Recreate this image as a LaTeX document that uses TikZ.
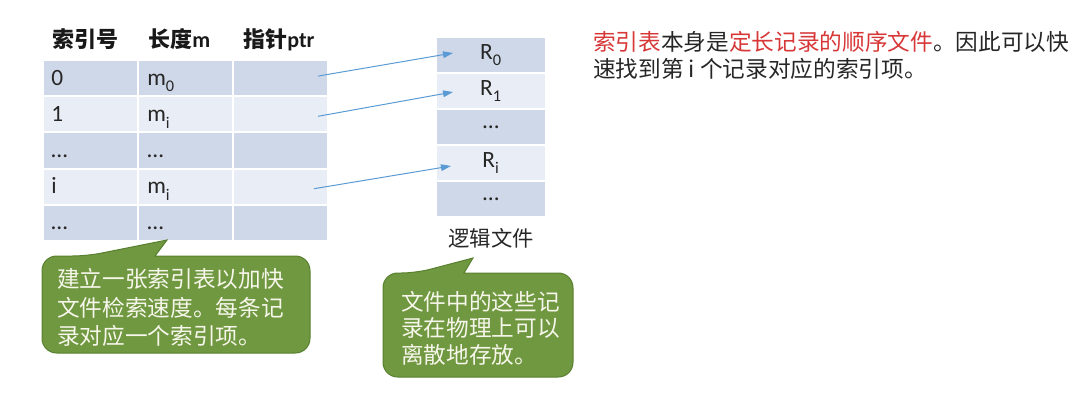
\documentclass[tikz,border=0pt]{standalone}
\usepackage{fontspec}
\setmainfont{Carlito}
\newfontfamily\cjk{Noto Sans CJK SC}
\usetikzlibrary{arrows.meta,calc}
\definecolor{rowdark}{RGB}{207,216,232}
\definecolor{rowlight}{RGB}{233,237,245}
\definecolor{arrowblue}{RGB}{91,155,213}
\definecolor{calloutfill}{RGB}{112,152,64}
\definecolor{calloutdraw}{RGB}{88,128,48}
\definecolor{calltextcol}{RGB}{246,246,234}
\definecolor{hlred}{RGB}{215,55,55}
\definecolor{bodytext}{RGB}{38,38,38}
\newcommand{\lowsub}[1]{\raisebox{-0.3ex}{\textsubscript{#1}}}
\tikzset{
  cell/.style={rectangle, draw=white, line width=1.5pt, minimum width=71.25pt, minimum height=27.15pt, inner sep=0pt},
  rcell/.style={rectangle, draw=white, line width=1.5pt, minimum width=82.5pt, minimum height=27pt, inner sep=0pt, font=\fontsize{17.5}{19}\selectfont, text=black!85},
  celltext/.style={anchor=base west, inner sep=0pt, font=\fontsize{17.5}{19}\selectfont, text=black!85},
  head/.style={anchor=base west, inner sep=0pt, font=\fontsize{16.5}{19}\selectfont\bfseries, text=black!90},
  link/.style={draw=arrowblue, line width=0.75pt, -{Triangle[length=7.5pt,width=5pt]}},
  callout/.style={fill=calloutfill, draw=calloutdraw, line width=0.75pt},
  calltext/.style={anchor=base west, inner sep=0pt, font=\cjk\fontsize{17}{21}\selectfont, text=calltextcol},
  note/.style={anchor=base west, inner sep=0pt, font=\cjk\fontsize{17}{21}\selectfont, text=bodytext},
}
\begin{document}
\begin{tikzpicture}[x=0.75pt,y=-0.75pt]
\useasboundingbox (0,0) rectangle (1080,407);

% header
\node[head] (h0) at (52,47) {\cjk 索引号};
\node[head] (h1) at (148,47) {{\cjk 长度}\bfseries m};
\node[head] (h2) at (243,47) {{\cjk 指针}\bfseries ptr};

% index table cells
\foreach \r in {0,...,4}{
  \pgfmathtruncatemacro\isodd{mod(\r,2)}
  \ifnum\isodd=0 \def\rowcol{rowdark}\else\def\rowcol{rowlight}\fi
  \foreach \c in {0,1,2}{
    \node[cell,fill=\rowcol] (t\r\c) at ({90.5+95*\c},{78.1+36.2*\r}) {};
  }
}
\node[celltext] (a0) at ($(t00.west)+(9,7)$) {0};
\node[celltext] (b0) at ($(t01.west)+(10,7)$) {m\lowsub{0}};
\node[celltext] (a1) at ($(t10.west)+(9,7)$) {1};
\node[celltext] (b1) at ($(t11.west)+(10,7)$) {m\lowsub{i}};
\node[celltext] (a2) at ($(t20.west)+(9,7)$) {\dots};
\node[celltext] (b2) at ($(t21.west)+(10,7)$) {\dots};
\node[celltext] (a3) at ($(t30.west)+(9,7)$) {i};
\node[celltext] (b3) at ($(t31.west)+(10,7)$) {m\lowsub{i}};
\node[celltext] (a4) at ($(t40.west)+(9,7)$) {\dots};
\node[celltext] (b4) at ($(t41.west)+(10,7)$) {\dots};

% logical file
\node[rcell,fill=rowdark]  (r0) at (491,55)  {R\lowsub{0}};
\node[rcell,fill=rowlight] (r1) at (491,91)  {R\lowsub{1}};
\node[rcell,fill=rowdark]  (r2) at (491,127) {\dots};
\node[rcell,fill=rowlight] (r3) at (491,163) {R\lowsub{i}};
\node[rcell,fill=rowdark]  (r4) at (491,199) {\dots};
\node[inner sep=0pt, font=\cjk\fontsize{16}{19}\selectfont, text=bodytext] (lf) at (491,238) {逻辑文件};

% pointers
\draw[link] ($(t02.east)+(-11,-2)$) -- ($(r0.center)+(-38,-2)$);
\draw[link] ($(t12.east)+(-11,2)$) -- ($(r1.center)+(-38,1)$);
\draw[link] ($(t32.east)+(-15,2)$) -- ($(r3.center)+(-40,3)$);

% callout 1
\draw[callout] (42,300) [rounded corners=11pt] -- (42,256) -- (87,256) [sharp corners] -- (167,240) -- (155,256) [rounded corners=11pt] -- (310,256) -- (310,353) -- (42,353) -- cycle;
\node[calltext] (c1a) at (57,287.5) {建立一张索引表以加快};
\node[calltext] (c1b) at (57,316) {文件检索速度。每条记};
\node[calltext] (c1c) at (57,344.5) {录对应一个索引项。};

% callout 2
\draw[callout] (383,320) [rounded corners=11pt] -- (383,273) -- (416,273) [sharp corners] -- (473,258) -- (464,273) [rounded corners=11pt] -- (573,273) -- (573,377) -- (383,377) -- cycle;
\node[calltext] (c2a) at (401,310) {文件中的这些记};
\node[calltext] (c2b) at (401,336.5) {录在物理上可以};
\node[calltext] (c2c) at (401,363) {离散地存放。};

% note
\node[note] (n1) at (593,50.5) {\textcolor{hlred}{索引表}本身是\textcolor{hlred}{定长记录的顺序文件}。因此可以快};
\node[note] (n2) at (593,77.5) {速找到第 i 个记录对应的索引项。};
\end{tikzpicture}
\end{document}
